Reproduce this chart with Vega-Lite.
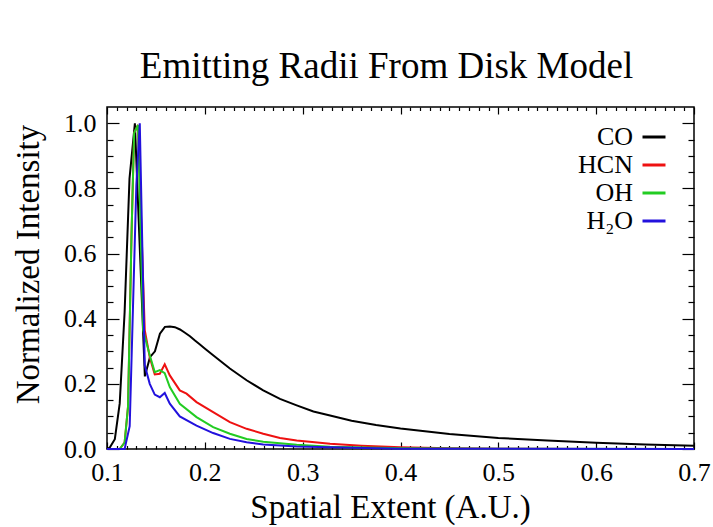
{
  "$schema": "https://vega.github.io/schema/vega-lite/v6.json",
  "width": 587,
  "height": 342,
  "autosize": {"type": "none"},
  "padding": {"left": 107, "top": 107, "right": 19, "bottom": 78},
  "background": "white",
  "title": {
    "text": "Emitting Radii From Disk Model",
    "font": "Liberation Serif",
    "fontSize": 37,
    "fontWeight": "normal",
    "color": "black",
    "anchor": "middle",
    "dx": -14,
    "offset": 20
  },
  "data": {
    "values": [
      {"species": "CO", "x": 0.100, "y": 0.0},
      {"species": "CO", "x": 0.103, "y": 0.005},
      {"species": "CO", "x": 0.108, "y": 0.03},
      {"species": "CO", "x": 0.113, "y": 0.14},
      {"species": "CO", "x": 0.118, "y": 0.42},
      {"species": "CO", "x": 0.123, "y": 0.83},
      {"species": "CO", "x": 0.1285, "y": 1.0},
      {"species": "CO", "x": 0.1336, "y": 0.61},
      {"species": "CO", "x": 0.1387, "y": 0.223},
      {"species": "CO", "x": 0.1439, "y": 0.282},
      {"species": "CO", "x": 0.149, "y": 0.30},
      {"species": "CO", "x": 0.1541, "y": 0.354},
      {"species": "CO", "x": 0.1592, "y": 0.375},
      {"species": "CO", "x": 0.1643, "y": 0.376},
      {"species": "CO", "x": 0.1694, "y": 0.374},
      {"species": "CO", "x": 0.1746, "y": 0.367},
      {"species": "CO", "x": 0.1797, "y": 0.357},
      {"species": "CO", "x": 0.1848, "y": 0.346},
      {"species": "CO", "x": 0.1899, "y": 0.333},
      {"species": "CO", "x": 0.195, "y": 0.321},
      {"species": "CO", "x": 0.2002, "y": 0.308},
      {"species": "CO", "x": 0.2085, "y": 0.288},
      {"species": "CO", "x": 0.2256, "y": 0.247},
      {"species": "CO", "x": 0.2427, "y": 0.211},
      {"species": "CO", "x": 0.2597, "y": 0.18},
      {"species": "CO", "x": 0.2768, "y": 0.154},
      {"species": "CO", "x": 0.2939, "y": 0.134},
      {"species": "CO", "x": 0.311, "y": 0.115},
      {"species": "CO", "x": 0.328, "y": 0.103},
      {"species": "CO", "x": 0.35, "y": 0.087},
      {"species": "CO", "x": 0.375, "y": 0.074},
      {"species": "CO", "x": 0.40, "y": 0.063},
      {"species": "CO", "x": 0.45, "y": 0.046},
      {"species": "CO", "x": 0.50, "y": 0.034},
      {"species": "CO", "x": 0.55, "y": 0.026},
      {"species": "CO", "x": 0.60, "y": 0.019},
      {"species": "CO", "x": 0.65, "y": 0.014},
      {"species": "CO", "x": 0.70, "y": 0.010},

      {"species": "HCN", "x": 0.100, "y": 0.0},
      {"species": "HCN", "x": 0.113, "y": 0.0},
      {"species": "HCN", "x": 0.118, "y": 0.02},
      {"species": "HCN", "x": 0.1215, "y": 0.13},
      {"species": "HCN", "x": 0.125, "y": 0.65},
      {"species": "HCN", "x": 0.1277, "y": 0.97},
      {"species": "HCN", "x": 0.1317, "y": 0.995},
      {"species": "HCN", "x": 0.1386, "y": 0.365},
      {"species": "HCN", "x": 0.1437, "y": 0.282},
      {"species": "HCN", "x": 0.1488, "y": 0.229},
      {"species": "HCN", "x": 0.154, "y": 0.231},
      {"species": "HCN", "x": 0.159, "y": 0.26},
      {"species": "HCN", "x": 0.1642, "y": 0.226},
      {"species": "HCN", "x": 0.1744, "y": 0.18},
      {"species": "HCN", "x": 0.1813, "y": 0.17},
      {"species": "HCN", "x": 0.1915, "y": 0.144},
      {"species": "HCN", "x": 0.2085, "y": 0.113},
      {"species": "HCN", "x": 0.2256, "y": 0.0825},
      {"species": "HCN", "x": 0.2427, "y": 0.062},
      {"species": "HCN", "x": 0.2597, "y": 0.047},
      {"species": "HCN", "x": 0.2768, "y": 0.034},
      {"species": "HCN", "x": 0.2939, "y": 0.026},
      {"species": "HCN", "x": 0.328, "y": 0.016},
      {"species": "HCN", "x": 0.36, "y": 0.010},
      {"species": "HCN", "x": 0.40, "y": 0.005},
      {"species": "HCN", "x": 0.45, "y": 0.002},
      {"species": "HCN", "x": 0.50, "y": 0.001},
      {"species": "HCN", "x": 0.60, "y": 0.0},
      {"species": "HCN", "x": 0.70, "y": 0.0},

      {"species": "OH", "x": 0.100, "y": 0.0},
      {"species": "OH", "x": 0.113, "y": 0.0},
      {"species": "OH", "x": 0.118, "y": 0.02},
      {"species": "OH", "x": 0.1215, "y": 0.13},
      {"species": "OH", "x": 0.125, "y": 0.65},
      {"species": "OH", "x": 0.1277, "y": 0.97},
      {"species": "OH", "x": 0.1317, "y": 0.995},
      {"species": "OH", "x": 0.1369, "y": 0.365},
      {"species": "OH", "x": 0.1437, "y": 0.288},
      {"species": "OH", "x": 0.1488, "y": 0.236},
      {"species": "OH", "x": 0.154, "y": 0.242},
      {"species": "OH", "x": 0.159, "y": 0.233},
      {"species": "OH", "x": 0.1642, "y": 0.19},
      {"species": "OH", "x": 0.1744, "y": 0.139},
      {"species": "OH", "x": 0.1915, "y": 0.098},
      {"species": "OH", "x": 0.2085, "y": 0.067},
      {"species": "OH", "x": 0.2256, "y": 0.047},
      {"species": "OH", "x": 0.2427, "y": 0.031},
      {"species": "OH", "x": 0.2597, "y": 0.022},
      {"species": "OH", "x": 0.2939, "y": 0.013},
      {"species": "OH", "x": 0.328, "y": 0.007},
      {"species": "OH", "x": 0.40, "y": 0.002},
      {"species": "OH", "x": 0.50, "y": 0.0005},
      {"species": "OH", "x": 0.70, "y": 0.0},

      {"species": "H₂O", "x": 0.100, "y": 0.0},
      {"species": "H₂O", "x": 0.118, "y": 0.0},
      {"species": "H₂O", "x": 0.1232, "y": 0.07},
      {"species": "H₂O", "x": 0.1266, "y": 0.44},
      {"species": "H₂O", "x": 0.130, "y": 0.81},
      {"species": "H₂O", "x": 0.1335, "y": 1.0},
      {"species": "H₂O", "x": 0.1386, "y": 0.257},
      {"species": "H₂O", "x": 0.1437, "y": 0.2},
      {"species": "H₂O", "x": 0.1488, "y": 0.167},
      {"species": "H₂O", "x": 0.154, "y": 0.159},
      {"species": "H₂O", "x": 0.159, "y": 0.172},
      {"species": "H₂O", "x": 0.1642, "y": 0.139},
      {"species": "H₂O", "x": 0.1744, "y": 0.1},
      {"species": "H₂O", "x": 0.1915, "y": 0.072},
      {"species": "H₂O", "x": 0.2085, "y": 0.049},
      {"species": "H₂O", "x": 0.2256, "y": 0.031},
      {"species": "H₂O", "x": 0.2427, "y": 0.021},
      {"species": "H₂O", "x": 0.2597, "y": 0.014},
      {"species": "H₂O", "x": 0.2939, "y": 0.008},
      {"species": "H₂O", "x": 0.328, "y": 0.005},
      {"species": "H₂O", "x": 0.40, "y": 0.001},
      {"species": "H₂O", "x": 0.70, "y": 0.0}
    ]
  },
  "layer": [
    {
      "mark": {"type": "line", "strokeWidth": 2},
      "encoding": {
        "x": {
          "field": "x",
          "type": "quantitative",
          "scale": {"domain": [0.1, 0.7], "nice": false, "zero": false},
          "axis": {
            "orient": "bottom",
            "title": "Spatial Extent (A.U.)",
            "values": [0.10,0.11,0.12,0.13,0.14,0.15,0.16,0.17,0.18,0.19,0.20,0.21,0.22,0.23,0.24,0.25,0.26,0.27,0.28,0.29,0.30,0.31,0.32,0.33,0.34,0.35,0.36,0.37,0.38,0.39,0.40,0.41,0.42,0.43,0.44,0.45,0.46,0.47,0.48,0.49,0.50,0.51,0.52,0.53,0.54,0.55,0.56,0.57,0.58,0.59,0.60,0.61,0.62,0.63,0.64,0.65,0.66,0.67,0.68,0.69,0.70],
            "labelExpr": "abs(datum.value*10 - round(datum.value*10)) < 0.001 ? format(datum.value, '.1f') : ''",
            "tickSize": {"condition": {"test": "abs(datum.value*10 - round(datum.value*10)) < 0.001", "value": -7}, "value": -3.5},
            "labelFlush": false,
            "labelOverlap": false,
            "labelPadding": 17,
            "titlePadding": 3,
            "titleX": 283
          }
        },
        "y": {
          "field": "y",
          "type": "quantitative",
          "scale": {"domain": [0, 1.05], "nice": false},
          "axis": {
            "orient": "left",
            "title": "Normalized Intensity",
            "values": [0,0.05,0.1,0.15,0.2,0.25,0.3,0.35,0.4,0.45,0.5,0.55,0.6,0.65,0.7,0.75,0.8,0.85,0.9,0.95,1.0],
            "labelExpr": "abs(datum.value*5 - round(datum.value*5)) < 0.001 ? format(datum.value, '.1f') : ''",
            "tickSize": {"condition": {"test": "abs(datum.value*5 - round(datum.value*5)) < 0.001", "value": -12}, "value": -6},
            "labelFlush": false,
            "labelOverlap": false,
            "labelPadding": 23,
            "titlePadding": 18,
            "titleY": 157
          }
        },
        "color": {
          "field": "species",
          "type": "nominal",
          "scale": {
            "domain": ["CO", "HCN", "OH", "H₂O"],
            "range": ["#000000", "#ee1111", "#22cc22", "#2211dd"]
          },
          "legend": {
            "title": null,
            "orient": "none",
            "legendX": 534,
            "legendY": 17,
            "symbolType": "stroke",
            "symbolSize": 529,
            "symbolStrokeWidth": 3,
            "labelFont": "Liberation Serif",
            "labelFontSize": 26,
            "labelColor": "black",
            "labelAlign": "right",
            "labelOffset": -34,
            "rowPadding": 2
          }
        }
      }
    },
    {
      "mark": {"type": "line", "opacity": 0},
      "encoding": {
        "x": {
          "field": "x",
          "type": "quantitative",
          "axis": {
            "orient": "top",
            "title": null,
            "labels": false,
            "values": [0.10,0.11,0.12,0.13,0.14,0.15,0.16,0.17,0.18,0.19,0.20,0.21,0.22,0.23,0.24,0.25,0.26,0.27,0.28,0.29,0.30,0.31,0.32,0.33,0.34,0.35,0.36,0.37,0.38,0.39,0.40,0.41,0.42,0.43,0.44,0.45,0.46,0.47,0.48,0.49,0.50,0.51,0.52,0.53,0.54,0.55,0.56,0.57,0.58,0.59,0.60,0.61,0.62,0.63,0.64,0.65,0.66,0.67,0.68,0.69,0.70],
            "tickSize": {"condition": {"test": "abs(datum.value*10 - round(datum.value*10)) < 0.001", "value": -7}, "value": -3.5}
          }
        },
        "y": {
          "field": "y",
          "type": "quantitative",
          "axis": {
            "orient": "right",
            "title": null,
            "labels": false,
            "values": [0,0.05,0.1,0.15,0.2,0.25,0.3,0.35,0.4,0.45,0.5,0.55,0.6,0.65,0.7,0.75,0.8,0.85,0.9,0.95,1.0],
            "tickSize": {"condition": {"test": "abs(datum.value*5 - round(datum.value*5)) < 0.001", "value": -12}, "value": -6}
          }
        }
      }
    }
  ],
  "resolve": {"axis": {"x": "independent", "y": "independent"}},
  "config": {
    "view": {"stroke": "black", "strokeWidth": 1.5},
    "axis": {
      "domain": false,
      "grid": false,
      "tickColor": "black",
      "tickWidth": 1.2,
      "labelFont": "Liberation Serif",
      "labelFontSize": 26,
      "labelColor": "black",
      "titleFont": "Liberation Serif",
      "titleFontSize": 33,
      "titleFontWeight": "normal",
      "titleColor": "black"
    }
  }
}
